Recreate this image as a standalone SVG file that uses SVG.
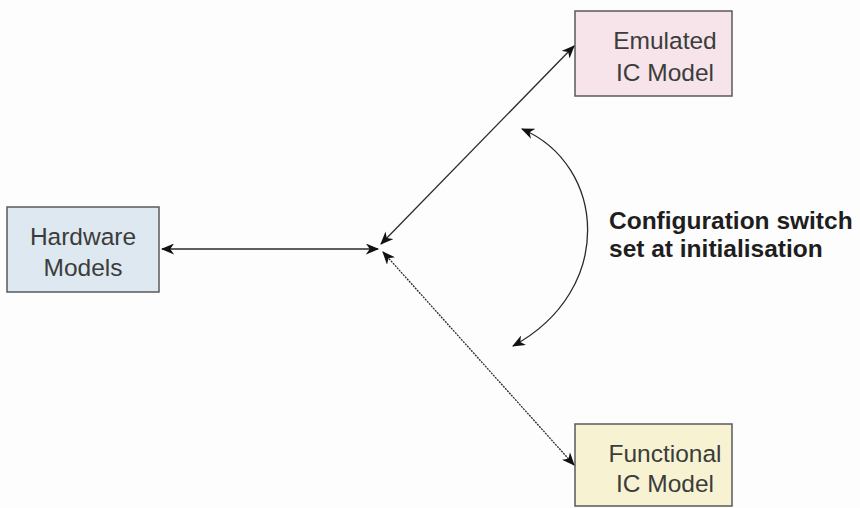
<svg xmlns="http://www.w3.org/2000/svg" width="860" height="508" viewBox="0 0 860 508">
<defs>
<marker id="ahs" viewBox="0 0 12 10" refX="11" refY="5" markerWidth="14" markerHeight="11" markerUnits="userSpaceOnUse" orient="auto-start-reverse">
<path d="M0,0 L12,5 L0,10 L3.5,5 Z" fill="#111"/>
</marker>
</defs>
<style>
.box{stroke:#5a5a5a;stroke-width:1.5}
.lbl{font-family:"Liberation Sans",Arial,sans-serif;font-size:24.5px;fill:#3c3c3c;text-anchor:middle}
.note{font-family:"Liberation Sans",Arial,sans-serif;font-size:24.5px;font-weight:bold;fill:#1e1e1e}
.con{fill:none;stroke:#2a2a2a;stroke-width:1.3}
</style>
<rect width="860" height="508" fill="#fdfdfd"/>
<g id="hardware">
<rect class="box" x="7" y="207" width="152" height="85" fill="#dde8f0"/>
<text class="lbl" x="83" y="245">Hardware</text>
<text class="lbl" x="83" y="276">Models</text>
</g>
<g id="emulated">
<rect class="box" x="575" y="11" width="157" height="85" fill="#f6e4ea"/>
<text class="lbl" x="665" y="49">Emulated</text>
<text class="lbl" x="665" y="81">IC Model</text>
</g>
<g id="functional">
<rect class="box" x="575" y="424" width="157" height="82" fill="#f7f3d2"/>
<text class="lbl" x="665" y="462">Functional</text>
<text class="lbl" x="665" y="492">IC Model</text>
</g>
<g id="connectors">
<line class="con" x1="162" y1="249" x2="378" y2="249" marker-start="url(#ahs)" marker-end="url(#ahs)"/>
<line class="con" x1="381" y1="244" x2="574" y2="46" marker-start="url(#ahs)" marker-end="url(#ahs)"/>
<line class="con" x1="383" y1="252" x2="574" y2="465" stroke-dasharray="2 1" stroke="#555" marker-start="url(#ahs)" marker-end="url(#ahs)"/>
<path class="con" d="M522,129 C606,165 616,290 513,346" marker-start="url(#ahs)" marker-end="url(#ahs)"/>
</g>
<g id="note">
<text class="note" x="609" y="229">Configuration switch</text>
<text class="note" x="609" y="257">set at initialisation</text>
</g>
</svg>
